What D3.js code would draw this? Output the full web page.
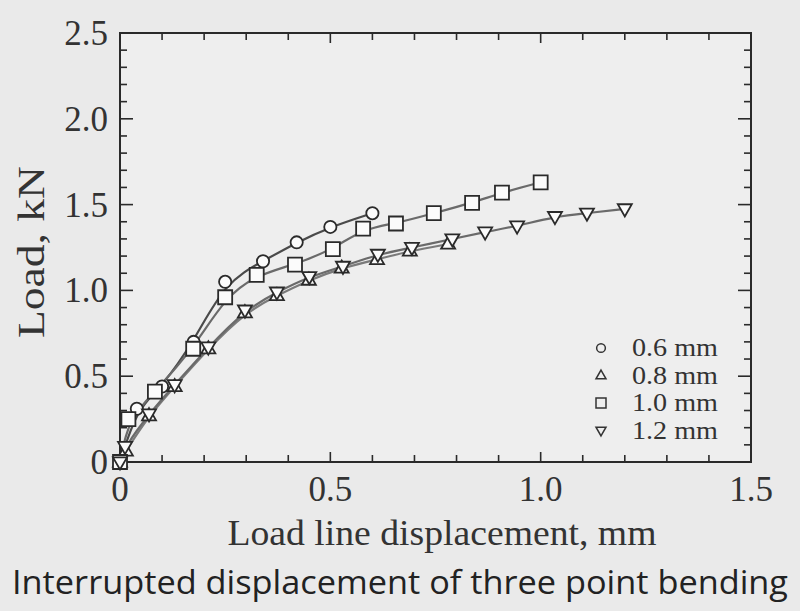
<!DOCTYPE html>
<html>
<head>
<meta charset="utf-8">
<script src="https://cdn.jsdelivr.net/npm/d3@7"></script>
<style>
  body { margin: 0; background: #eaeaea; }
  svg { display: block; }
</style>
</head>
<body>
<script>
// series: load (kN) vs load line displacement (mm)
var seriesNames = ["0.6 mm", "0.8 mm", "1.0 mm", "1.2 mm"];
var seriesShapes = ["circle", "up", "square", "down"];

var x06 = [0, 0.04, 0.10, 0.175, 0.25, 0.34, 0.42, 0.50, 0.60];
var y06 = [0, 0.31, 0.44, 0.70, 1.05, 1.17, 1.28, 1.37, 1.45];

var x08 = [0, 0.014, 0.069, 0.13, 0.21, 0.297, 0.373, 0.449, 0.527, 0.611, 0.689, 0.78];
var y08 = [0, 0.064, 0.27, 0.44, 0.66, 0.87, 0.97, 1.06, 1.13, 1.18, 1.23, 1.27];

var x10 = [0, 0.02, 0.083, 0.174, 0.25, 0.325, 0.416, 0.506, 0.578, 0.656, 0.746, 0.837, 0.908, 1.0];
var y10 = [0, 0.25, 0.41, 0.66, 0.96, 1.09, 1.15, 1.24, 1.36, 1.39, 1.45, 1.51, 1.57, 1.63];

var x12 = [0, 0.012, 0.069, 0.13, 0.21, 0.297, 0.373, 0.45, 0.53, 0.613, 0.694, 0.79, 0.868, 0.944, 1.034, 1.11, 1.20];
var y12 = [0, 0.09, 0.28, 0.45, 0.67, 0.885, 0.99, 1.08, 1.14, 1.21, 1.25, 1.30, 1.34, 1.375, 1.43, 1.45, 1.475];

var xTicks = [0, 0.5, 1.0, 1.5];
var yTicks = [0, 0.5, 1.0, 1.5, 2.0, 2.5];

var W = 800, H = 611;
// plot box (note: "top" is a reserved window global, so use plot* names)
var plotL = 120, plotR = 751, plotT = 33, plotB = 462;

var svg = d3.select("body").append("svg").attr("width", W).attr("height", H);

var xScale = d3.scaleLinear().domain([0, 1.5]).range([plotL, plotR]);
var yScale = d3.scaleLinear().domain([0, 2.5]).range([plotB, plotT]);

var fmt = function(d){ return d === 0 ? "0" : d3.format(".1f")(d); };
var serif = "'Liberation Serif', 'Times New Roman', serif";
var minorX = d3.range(0, 1.501, 0.1);
var minorY = d3.range(0, 2.501, 0.1);

// frame
svg.append("rect").attr("x", plotL).attr("y", plotT)
  .attr("width", plotR - plotL).attr("height", plotB - plotT)
  .attr("fill", "#eeeeee").attr("stroke", "#2a2a2a").attr("stroke-width", 2);

// inward ticks on all four sides
var tickG = svg.append("g").attr("stroke", "#2a2a2a").attr("stroke-width", 1.6);
minorX.forEach(function(v){
  var major = Math.abs(v * 2 - Math.round(v * 2)) < 1e-6;
  var len = major ? 10 : 7;
  tickG.append("line").attr("x1", xScale(v)).attr("x2", xScale(v)).attr("y1", plotB).attr("y2", plotB - len);
  tickG.append("line").attr("x1", xScale(v)).attr("x2", xScale(v)).attr("y1", plotT).attr("y2", plotT + len);
});
minorY.forEach(function(v){
  var major = Math.abs(v * 2 - Math.round(v * 2)) < 1e-6;
  var len = major ? 13 : 7;
  tickG.append("line").attr("y1", yScale(v)).attr("y2", yScale(v)).attr("x1", plotL).attr("x2", plotL + len);
  tickG.append("line").attr("y1", yScale(v)).attr("y2", yScale(v)).attr("x1", plotR).attr("x2", plotR - len);
});

// tick labels
svg.append("g").selectAll("text").data(xTicks).enter().append("text")
  .attr("x", function(d){ return xScale(d); })
  .attr("y", 501)
  .attr("text-anchor", "middle")
  .attr("font-family", serif).attr("font-size", 35).attr("fill", "#333")
  .text(fmt);

svg.append("g").selectAll("text").data(yTicks).enter().append("text")
  .attr("x", 108)
  .attr("y", function(d){ return yScale(d) + 12; })
  .attr("text-anchor", "end")
  .attr("font-family", serif).attr("font-size", 35).attr("fill", "#333")
  .text(fmt);

// axis titles
svg.append("text").attr("x", 442).attr("y", 545)
  .attr("text-anchor", "middle")
  .attr("font-family", serif).attr("font-size", 35).attr("fill", "#333")
  .attr("textLength", 429).attr("lengthAdjust", "spacingAndGlyphs")
  .text("Load line displacement, mm");

svg.append("text")
  .attr("transform", "translate(44,252) rotate(-90)")
  .attr("text-anchor", "middle")
  .attr("font-family", serif).attr("font-size", 38).attr("fill", "#333")
  .attr("textLength", 172).attr("lengthAdjust", "spacingAndGlyphs")
  .text("Load, kN");

svg.append("text").attr("x", 400).attr("y", 594)
  .attr("text-anchor", "middle")
  .attr("font-family", "'Open Sans', 'Noto Sans', sans-serif").attr("font-size", 33).attr("fill", "#222")
  .attr("textLength", 776).attr("lengthAdjust", "spacingAndGlyphs")
  .text("Interrupted displacement of three point bending");

// curves + markers
var allX = [x06, x08, x10, x12];
var allY = [y06, y08, y10, y12];
var lineColors = ["#4a4a4a", "#7a7a7a", "#6a6a6a", "#6a6a6a"];

var line = d3.line()
  .x(function(d){ return xScale(d[0]); })
  .y(function(d){ return yScale(d[1]); })
  .curve(d3.curveBasis);

function markerPath(shape, s) {
  if (shape === "circle") return d3.symbol(d3.symbolCircle, s * s * 0.6)();
  if (shape === "square") return "M" + (-s/2) + "," + (-s/2) + "h" + s + "v" + s + "h" + (-s) + "Z";
  var h = s * 0.87;
  if (shape === "up") return "M0," + (-h*0.62) + "L" + (s/2) + "," + (h*0.38) + "L" + (-s/2) + "," + (h*0.38) + "Z";
  return "M0," + (h*0.62) + "L" + (s/2) + "," + (-h*0.38) + "L" + (-s/2) + "," + (-h*0.38) + "Z";
}

allX.forEach(function(xs, i){
  var pts = xs.map(function(v, j){ return [v, allY[i][j]]; });
  svg.append("path").datum(pts)
    .attr("d", line)
    .attr("fill", "none")
    .attr("stroke", lineColors[i])
    .attr("stroke-width", 2.2);
});

allX.forEach(function(xs, i){
  var pts = xs.map(function(v, j){ return [v, allY[i][j]]; });
  svg.append("g").selectAll("path").data(pts).enter().append("path")
    .attr("transform", function(d){ return "translate(" + xScale(d[0]) + "," + yScale(d[1]) + ")"; })
    .attr("d", markerPath(seriesShapes[i], 14))
    .attr("fill", "#fbfbfb")
    .attr("stroke", "#2a2a2a")
    .attr("stroke-width", 1.8);
});

// legend
var legend = svg.append("g");
seriesNames.forEach(function(name, i){
  var yy = 348 + i * 27.5;
  legend.append("path")
    .attr("transform", "translate(601," + yy + ")")
    .attr("d", markerPath(seriesShapes[i], 10))
    .attr("fill", "none").attr("stroke", "#333").attr("stroke-width", 1.5);
  legend.append("text").attr("x", 632).attr("y", yy + 8)
    .attr("font-family", serif).attr("font-size", 25).attr("fill", "#333")
    .attr("textLength", 86).attr("lengthAdjust", "spacingAndGlyphs")
    .text(name);
});
</script>
</body>
</html>
